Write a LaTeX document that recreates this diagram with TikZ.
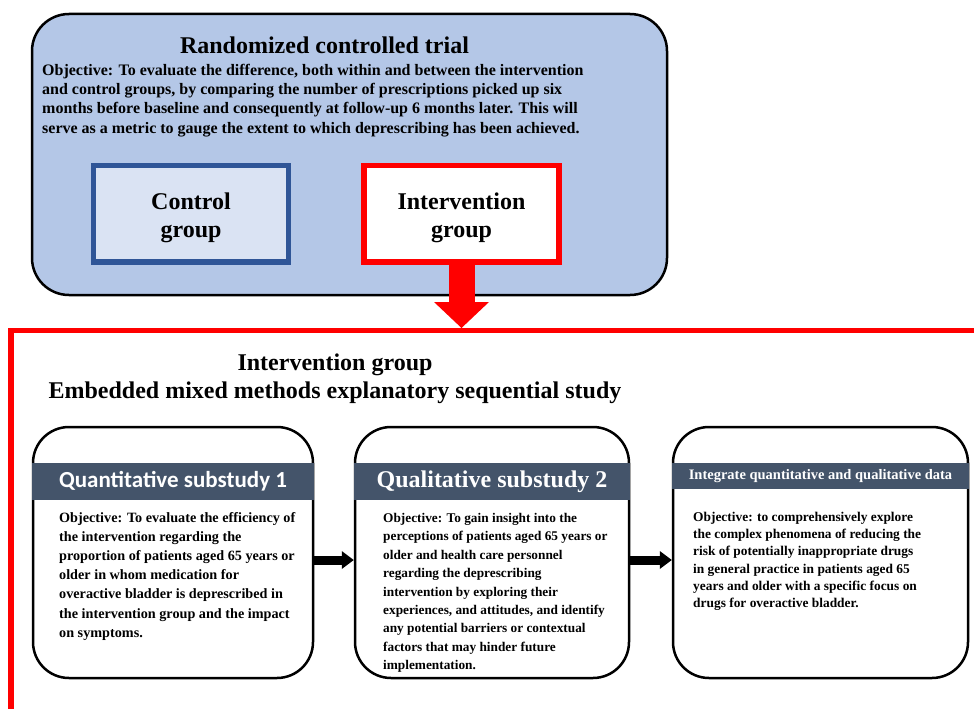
\documentclass[tikz,border=0pt]{standalone}
\usepackage{fontspec}
\setmainfont{Liberation Serif}
\newfontfamily\calibrifont{Carlito}
\usetikzlibrary{arrows.meta}
\definecolor{trialblue}{HTML}{B4C7E7}
\definecolor{ctrlfill}{HTML}{DAE3F3}
\definecolor{ctrlline}{HTML}{2F5597}
\definecolor{headgray}{HTML}{44546A}

\begin{document}
\begin{tikzpicture}[x=1pt, y=-1pt,
    trial/.style={rectangle, draw, line width=2.5pt, fill=trialblue, rounded corners=37pt, minimum width=635pt, minimum height=281pt, inner sep=0pt},
    group/.style={rectangle, line width=5.5pt, minimum width=195pt, minimum height=96.5pt, inner sep=0pt},
    grouptext/.style={anchor=base, align=center, inner sep=0pt, font=\fontsize{24}{28}\selectfont\bfseries},
    study/.style={rectangle, draw, line width=2.5pt, fill=white, rounded corners=36pt, minimum height=251pt, inner sep=0pt},
    header/.style={rectangle, fill=headgray, text=white, inner sep=0pt},
    objective/.style={anchor=base west, align=left, inner sep=0pt},
    line/.style={draw, line width=9pt, -{Triangle[length=12pt, width=18pt, line width=0pt]}},
    bigline/.style={draw=red, line width=26pt, -{Triangle[length=26pt, width=55pt, line width=0pt]}}
]
    \useasboundingbox (0,0) rectangle (974,709);

    % randomized controlled trial
    \node [trial] (rct) at (349.5,154.5) {};
    \node [anchor=base, inner sep=0pt, font=\fontsize{24}{28}\selectfont\bfseries] (rcttitle) at (324.5,53) {Randomized controlled trial};
    % base anchor sits on the last line
    \node [objective, font=\fontsize{16}{19.3}\selectfont\bfseries] (rctobj) at (42,133.2) {Objective: To evaluate the difference, both within and between the intervention\\and control groups, by comparing the number of prescriptions picked up six\\months before baseline and consequently at follow-up 6 months later. This will\\serve as a metric to gauge the extent to which deprescribing has been achieved.};
    \node [group, draw=ctrlline, fill=ctrlfill] (control) at (191,213.75) {};
    \node [group, draw=red, fill=white] (intervention) at (461.5,213.75) {};
    \node [grouptext] (controltext) at (191,237) {Control\\group};
    \node [grouptext] (interventiontext) at (461.5,237) {Intervention\\group};

    % intervention group frame
    \draw [red, line width=5.5pt] (11,709) -- (11,330.5) -- (974,330.5);
    \coordinate (tip) at (461.5,328);
    \path [bigline] (intervention.south) -- (tip);
    \node [anchor=base, align=center, inner sep=0pt, font=\fontsize{24}{28}\selectfont\bfseries] (ighead) at (335,398) {Intervention group\\Embedded mixed methods explanatory sequential study};

    % substudies
    \node [study, minimum width=280pt] (quant) at (173,552.5) {};
    \node [study, minimum width=274pt] (qual) at (492,552.5) {};
    \node [study, minimum width=295pt] (integ) at (820.5,552.5) {};

    \node [header, minimum width=282pt, minimum height=37pt, font=\calibrifont\fontsize{23}{28}\selectfont\bfseries] (quanthead) at (173,481.5) {Quantitative substudy 1};
    \node [header, minimum width=276pt, minimum height=37pt, font=\fontsize{24}{28}\selectfont\bfseries] (qualhead) at (492,481.5) {Qualitative substudy 2};
    \node [header, minimum width=297pt, minimum height=26pt, font=\fontsize{14.5}{16}\selectfont\bfseries] (integhead) at (820.5,476) {Integrate quantitative and qualitative data};

    \node [objective, font=\fontsize{14.2}{19.1}\selectfont\bfseries] (quantobj) at (59,637.1) {Objective: To evaluate the efficiency of\\the intervention regarding the\\proportion of patients aged 65 years or\\older in whom medication for\\overactive bladder is deprescribed in\\the intervention group and the impact\\on symptoms.};
    \node [objective, font=\fontsize{13.3}{18.4}\selectfont\bfseries] (qualobj) at (383,669.6) {Objective: To gain insight into the\\perceptions of patients aged 65 years or\\older and health care personnel\\regarding the deprescribing\\intervention by exploring their\\experiences, and attitudes, and identify\\any potential barriers or contextual\\factors that may hinder future\\implementation.};
    \node [objective, font=\fontsize{13.4}{17.2}\selectfont\bfseries] (integobj) at (693,607.4) {Objective: to comprehensively explore\\the complex phenomena of reducing the\\risk of potentially inappropriate drugs\\in general practice in patients aged 65\\years and older with a specific focus on\\drugs for overactive bladder.};

    \path [line] ([yshift=-7.5pt]quant.east) -- ([yshift=-7.5pt]qual.west);
    \path [line] ([yshift=-7.5pt]qual.east) -- ([yshift=-7.5pt]integ.west);
\end{tikzpicture}
\end{document}
